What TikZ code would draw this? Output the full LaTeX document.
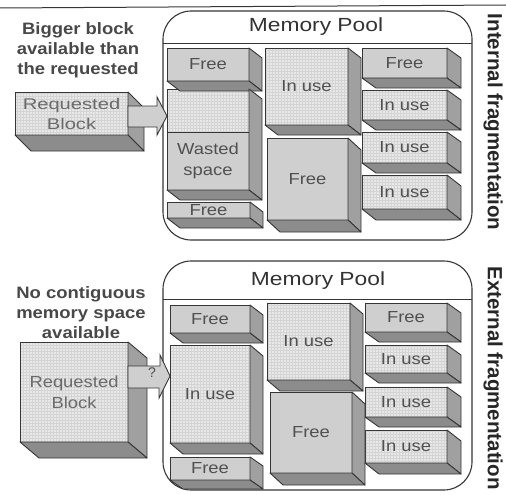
\documentclass[tikz,border=0pt]{standalone}
\usepackage{fontspec}
\usepackage{graphicx}
\setmainfont{Liberation Sans}
\newfontfamily\slabfont[FakeStretch=1.15]{Liberation Sans}
\newfontfamily\reqfont[FakeStretch=1.3]{Liberation Sans}
\newfontfamily\headfont[FakeStretch=1.2]{Liberation Sans}
\newfontfamily\titlefont[FakeStretch=1.12]{Liberation Sans}
\usetikzlibrary{calc}

\definecolor{edge}{HTML}{363636}
\definecolor{facefree}{HTML}{CFCFCF}
\definecolor{faceuse}{HTML}{E8E8E8}
\definecolor{sideR}{HTML}{A0A0A0}
\definecolor{sideB}{HTML}{8C8C8C}
\definecolor{labelgray}{HTML}{505050}
\definecolor{reqgray}{HTML}{6A6A6A}
\definecolor{gridgray}{HTML}{D4D4D4}
\definecolor{titlegray}{HTML}{484848}

\tikzset{
  slab/.style={draw=edge, line width=0.9pt, inner sep=0pt, outer sep=0pt,
    font=\slabfont\fontsize{16}{21}\selectfont, text=labelgray, align=center},
  freeslab/.style={slab, fill=facefree},
  useslab/.style={slab, fill=faceuse,
    path picture={\draw[gridgray, line width=0.2pt]
      (path picture bounding box.south west) grid[step=3pt]
      (path picture bounding box.north east);}},
  rface/.style={fill=sideR, draw=edge, line width=0.9pt, line join=round},
  bface/.style={fill=sideB, draw=edge, line width=0.9pt, line join=round},
  pool/.style={draw=edge, line width=1.1pt, rounded corners=28pt, fill=white,
    inner sep=0pt, outer sep=0pt},
  poolrule/.style={draw=edge, line width=1pt},
  heading/.style={font=\headfont\fontsize{19}{22}\selectfont, text=black!80},
  caption/.style={font=\titlefont\bfseries\fontsize{16.5}{20}\selectfont,
    text=titlegray, align=center},
  sidetitle/.style={font=\bfseries\fontsize{20.5}{24}\selectfont,
    text=black!85, rotate=-90},
  blockarrow/.style={fill=facefree, draw=edge, line width=0.9pt, line join=miter},
  asklabel/.style={font=\fontsize{14}{16}\selectfont, text=labelgray},
}

% front face of a memory block as a node: name, x1, y1, x2, y2, style, text
\newcommand\putslab[7]{%
  \node[#6, minimum width={(#4-#2)*1pt}, minimum height={(#5-#3)*1pt}]
    (#1) at ({(#2+#4)/2},{(#3+#5)/2}) {#7};}
% right and bottom faces of a block spanning nodes #1 (top) to #2 (bottom), depth #3
\newcommand\slabsides[3]{%
  \draw[rface] (#1.north east) -- ++(#3) -- ($(#2.south east)+(#3)$)
    -- (#2.south east) -- cycle;
  \draw[bface] (#2.south west) -- ++(#3) -- ($(#2.south east)+(#3)$)
    -- (#2.south east) -- cycle;}

\begin{document}
\begin{tikzpicture}[x=1pt,y=-1pt]
\useasboundingbox (0,0) rectangle (506,495);

\draw[poolrule] (0,8) -- (506,5);

% ---------- internal fragmentation ----------
\node[pool, minimum width=309pt, minimum height=229pt] (poolA) at (317.5,125.5) {};
\draw[poolrule] (poolA.west |- 0,44) -- (poolA.east |- 0,44);
\node[heading] (headA) at (316,27) {Memory Pool};

\putslab{a1}{167}{48}{249}{81}{freeslab}{Free}
\putslab{a2}{167}{89}{249}{132}{useslab}{}
\putslab{a3}{167}{132}{249}{190}{freeslab}{Wasted\\space}
\putslab{a4}{167}{202}{250}{218}{freeslab}{Free}
\putslab{a5}{265}{48}{348}{125}{useslab}{In use}
\putslab{a6}{267}{138}{348}{220}{freeslab}{Free}
\putslab{a7}{362}{48}{447}{78}{freeslab}{Free}
\putslab{a8}{362}{90}{447}{120}{useslab}{In use}
\putslab{a9}{362}{132}{447}{163}{useslab}{In use}
\putslab{a10}{362}{175}{447}{209}{useslab}{In use}
\slabsides{a1}{a1}{13,10}
\slabsides{a2}{a3}{13,10}
\slabsides{a4}{a4}{13,10}
\slabsides{a5}{a5}{13,10}
\slabsides{a6}{a6}{13,12}
\slabsides{a7}{a7}{14,10}
\slabsides{a8}{a8}{14,10}
\slabsides{a9}{a9}{14,10}
\slabsides{a10}{a10}{14,11}

\putslab{reqA}{15}{92}{128}{135}{useslab, font=\reqfont\fontsize{15.5}{20}\selectfont, text=reqgray}{Requested\\Block}
\slabsides{reqA}{reqA}{16,16}
\coordinate (tipA) at (a2.west |- 0,116);
\draw[blockarrow] (reqA.east |- 0,106) -- ++(29,0) -- ++(0,-9) -- (tipA)
  -- ++(-10,19) -- ++(0,-8) -- (reqA.east |- 0,127) -- cycle;

\node[caption] (capA) at (78,50) {Bigger block\\available than\\the requested};
\node[sidetitle] (sideA) at (493,122) {Internal fragmentation};

% ---------- external fragmentation ----------
\node[pool, minimum width=309pt, minimum height=229pt] (poolB) at (317.5,375.5) {};
\draw[poolrule] (poolB.west |- 0,299) -- (poolB.east |- 0,299);
\node[heading] (headB) at (318,281) {Memory Pool};

\putslab{b1}{170}{305}{250}{333}{freeslab}{Free}
\putslab{b2}{170}{345}{250}{443}{useslab}{In use}
\putslab{b3}{170}{457}{250}{480}{freeslab}{Free}
\putslab{b4}{267}{303}{350}{380}{useslab}{In use}
\putslab{b5}{270}{392}{352}{473}{freeslab}{Free}
\putslab{b6}{365}{303}{447}{332}{freeslab}{Free}
\putslab{b7}{365}{345}{447}{373}{useslab}{In use}
\putslab{b8}{365}{387}{447}{417}{useslab}{In use}
\putslab{b9}{365}{430}{447}{463}{useslab}{In use}
\slabsides{b1}{b1}{13,10}
\slabsides{b2}{b2}{13,11}
\slabsides{b3}{b3}{13,9}
\slabsides{b4}{b4}{13,11}
\slabsides{b5}{b5}{13,12}
\slabsides{b6}{b6}{14,10}
\slabsides{b7}{b7}{14,10}
\slabsides{b8}{b8}{14,10}
\slabsides{b9}{b9}{14,11}

\putslab{reqB}{20}{342}{128}{442}{useslab, text=reqgray}{Requested\\Block}
\slabsides{reqB}{reqB}{19,16}
\coordinate (tipB) at (b2.west |- 0,376);
\draw[blockarrow] (reqB.east |- 0,366) -- ++(32,0) -- ++(0,-11) -- (tipB)
  -- ++(-11,22) -- ++(0,-10) -- (reqB.east |- 0,388) -- cycle;
\node[asklabel] (ask) at (152,373) {?};

\node[caption] (capB) at (81,313) {No contiguous\\memory space\\available};
\node[sidetitle] (sideB) at (493,378) {External fragmentation};
\end{tikzpicture}
\end{document}
